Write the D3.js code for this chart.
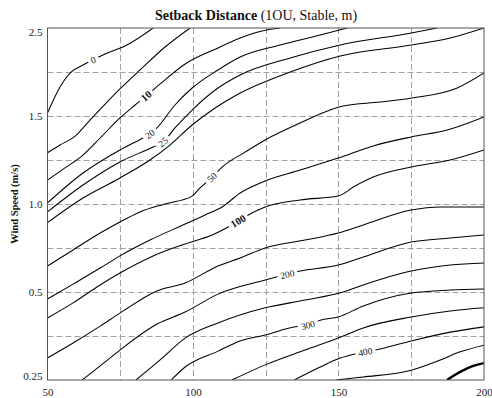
<!DOCTYPE html>
<html>
<head>
<meta charset="utf-8">
<script src="https://cdn.jsdelivr.net/npm/d3@7"></script>
<style>
  body { margin: 0; background: #fff; }
  svg { display: block; }
  text { font-family: "Liberation Serif", "Times New Roman", serif; }
</style>
</head>
<body>
<svg id="chart" width="492" height="398"></svg>
<script>
// axis values
const xTicks = [50, 100, 150, 200];
const xGrid = [75, 100, 125, 150, 175];
const yBreaks = [0.25, 0.375, 0.5, 0.75, 1.0, 1.25, 1.5, 2.0, 2.5];
const yTicks = [0.25, 0.5, 1.0, 1.5, 2.5];
const yTickLabels = ['0.25', '0.5', '1.0', '1.5', '2.5'];
const yGrid = [0.375, 0.5, 0.75, 1.0, 1.25, 1.5, 2.0];

// contour lines, [distance x, wind speed]
const c0   = [[50,1.534],[54.3,1.83],[58.3,2.003],[62.2,2.08],[69.8,2.205],[77.3,2.307],[86.3,2.5]];
const c5   = [[50,1.291],[54.3,1.335],[59.5,1.386],[64.6,1.477],[69.8,1.636],[74.9,1.807],[81.8,2.023],[90.4,2.284],[99.0,2.5]];
const c10  = [[50,1.136],[56.0,1.205],[62.2,1.278],[68.1,1.375],[74.9,1.489],[80.1,1.625],[83.9,1.727],[88.7,1.864],[97.3,2.091],[108.6,2.273],[116.2,2.386],[123.7,2.466],[129.9,2.5]];
const c20  = [[50,1.006],[62.2,1.176],[74.9,1.307],[82.8,1.375],[85.3,1.398],[87.6,1.432],[93.8,1.625],[99.7,1.818],[108.6,2.023],[116.2,2.170],[130.0,2.307],[143.7,2.420],[153.0,2.5]];
const c25  = [[50,0.955],[62.2,1.108],[74.9,1.239],[86.3,1.324],[89.7,1.352],[93.8,1.432],[99.7,1.568],[108.6,1.818],[116.2,1.966],[133.4,2.159],[150.6,2.307],[175.0,2.443],[183.9,2.5]];
const c40  = [[50,0.894],[62.2,1.034],[74.9,1.148],[85.2,1.25],[92.1,1.335],[99.7,1.449],[107.6,1.591],[116.2,1.761],[133.4,2.0],[150.6,2.182],[175.0,2.307],[188.4,2.386],[200,2.5]];
const c50  = [[50,0.648],[58.8,0.739],[68.1,0.835],[74.9,0.898],[81.8,0.955],[90.4,1.0],[99.7,1.045],[102.4,1.091],[106.6,1.153],[110.0,1.210],[117.9,1.295],[124.8,1.364],[136.8,1.460],[147.1,1.568],[151.6,1.614],[164.3,1.659],[175.3,1.705],[190.8,1.818],[200,1.989]];
const c75  = [[50,0.480],[58.8,0.545],[68.1,0.636],[74.9,0.705],[85.2,0.795],[97.3,0.886],[104.2,0.938],[110.0,0.983],[116.2,1.0625],[124.8,1.131],[136.8,1.193],[149.9,1.261],[161.9,1.330],[175.0,1.381],[187.4,1.420],[200,1.494]];
const c100 = [[50,0.426],[58.8,0.469],[68.1,0.540],[74.9,0.608],[86.3,0.705],[97.3,0.773],[106.6,0.824],[112.1,0.869],[115.5,0.903],[119.6,0.943],[124.8,0.983],[136.8,1.023],[149.9,1.045],[155.7,1.102],[161.9,1.153],[175.0,1.210],[188.4,1.25],[200,1.307]];
const c150 = [[50,0.3125],[58.8,0.355],[68.1,0.403],[74.9,0.440],[87.6,0.506],[97.3,0.551],[108.6,0.648],[116.2,0.693],[124.8,0.75],[138.5,0.795],[149.9,0.835],[158.5,0.881],[175.0,0.966],[185.0,0.983],[200,0.983]];
const c200 = [[61.9,0.25],[68.1,0.290],[74.9,0.335],[87.6,0.409],[97.3,0.443],[108.6,0.494],[124.8,0.568],[136.8,0.619],[149.9,0.653],[158.5,0.699],[175.0,0.784],[188.4,0.807],[200,0.824]];
const c250 = [[80.4,0.25],[88.7,0.307],[97.3,0.369],[108.6,0.412],[124.8,0.455],[138.5,0.477],[151.6,0.5],[158.5,0.540],[175.0,0.619],[188.4,0.653],[200,0.665]];
const c300 = [[92.5,0.25],[97.3,0.287],[108.6,0.332],[116.2,0.361],[124.8,0.378],[135.1,0.401],[139.6,0.406],[143.7,0.420],[149.9,0.429],[158.5,0.460],[175.0,0.497],[188.4,0.511],[200,0.517]];
const c350 = [[113.4,0.25],[124.8,0.293],[138.5,0.335],[149.9,0.369],[158.5,0.398],[175.0,0.429],[188.4,0.446],[200,0.455]];
const c400 = [[134.8,0.25],[143.0,0.284],[150.6,0.3125],[155.7,0.324],[159.2,0.330],[164.3,0.338],[175.0,0.361],[188.4,0.386],[200,0.401]];
const c450 = [[149.2,0.25],[158.5,0.2585],[175.0,0.278],[185.0,0.307],[191.8,0.330],[200,0.349]];
const c500 = [[187.3,0.25],[191.8,0.273],[196.3,0.290],[200,0.298]];

const contours = [
  { level: 0, pts: c0 }, { level: 5, pts: c5 }, { level: 10, pts: c10 },
  { level: 20, pts: c20 }, { level: 25, pts: c25 }, { level: 40, pts: c40 },
  { level: 50, pts: c50 }, { level: 75, pts: c75 }, { level: 100, pts: c100 },
  { level: 150, pts: c150 }, { level: 200, pts: c200 }, { level: 250, pts: c250 },
  { level: 300, pts: c300 }, { level: 350, pts: c350 }, { level: 400, pts: c400 },
  { level: 450, pts: c450 }, { level: 500, pts: c500 }
];

// inline labels: level and the x where it sits
const labelLevels = [0, 10, 20, 25, 50, 100, 200, 300, 400];
const labelX      = [65.7, 83.9, 85.2, 89.7, 106.5, 115.5, 132.4, 139.5, 159.2];
const boldLevels  = [10, 100];

const W = 492, H = 398;
const margin = { top: 28, right: 8, bottom: 18, left: 47.5 };
const iw = W - margin.left - margin.right;
const ih = H - margin.top - margin.bottom;

const x = d3.scaleLinear().domain([50, 200]).range([margin.left, margin.left + iw]);
const yStep = ih / (yBreaks.length - 1);
const y = d3.scaleLinear().domain(yBreaks)
  .range(yBreaks.map((d, i) => margin.top + ih - i * yStep));

const svg = d3.select('#chart');

svg.append('defs').append('clipPath').attr('id', 'plot-clip')
  .append('rect')
  .attr('x', margin.left).attr('y', margin.top)
  .attr('width', iw).attr('height', ih);

// grid
const grid = svg.append('g').attr('stroke', '#a0a0a0').attr('stroke-width', 1).attr('stroke-dasharray', '6,3');
grid.selectAll('line.gx').data(xGrid).enter().append('line')
  .attr('x1', d => Math.round(x(d)) + 0.5).attr('x2', d => Math.round(x(d)) + 0.5)
  .attr('y1', margin.top).attr('y2', margin.top + ih);
grid.selectAll('line.gy').data(yGrid).enter().append('line')
  .attr('y1', d => Math.round(y(d)) + 0.5).attr('y2', d => Math.round(y(d)) + 0.5)
  .attr('x1', margin.left).attr('x2', margin.left + iw);

// contour lines
const line = d3.line()
  .x(d => x(d[0])).y(d => y(d[1]))
  .curve(d3.curveMonotoneX);

svg.append('g').attr('clip-path', 'url(#plot-clip)')
  .selectAll('path').data(contours).enter().append('path')
  .attr('d', d => line(d.pts))
  .attr('fill', 'none')
  .attr('stroke', '#000')
  .attr('stroke-width', d => d.level === 500 ? 2.4 : 1.05);

// labels
function wAt(pts, xv) {
  for (let i = 1; i < pts.length; i++) {
    if (xv <= pts[i][0]) {
      const [x0, w0] = pts[i - 1], [x1, w1] = pts[i];
      return w0 + (w1 - w0) * (xv - x0) / (x1 - x0);
    }
  }
  return pts[pts.length - 1][1];
}

const labelG = svg.append('g');
labelLevels.forEach((lv, i) => {
  const pts = contours.find(c => c.level === lv).pts;
  const xv = labelX[i];
  const px = x(xv), py = y(wAt(pts, xv));
  const pa = [x(xv - 2), y(wAt(pts, xv - 2))];
  const pb = [x(xv + 2), y(wAt(pts, xv + 2))];
  const ang = Math.atan2(pb[1] - pa[1], pb[0] - pa[0]) * 180 / Math.PI;
  const g = labelG.append('g').attr('transform', `translate(${px},${py}) rotate(${ang})`);
  const bold = boldLevels.includes(lv);
  const t = g.append('text')
    .attr('text-anchor', 'middle').attr('dy', '0.35em')
    .attr('font-size', bold ? 10.5 : 9.5)
    .attr('font-weight', bold ? 'bold' : 'normal')
    .attr('fill', '#111')
    .text(lv);
  const bb = t.node().getBBox();
  g.insert('rect', 'text')
    .attr('x', bb.x - 3).attr('y', bb.y)
    .attr('width', bb.width + 6).attr('height', bb.height)
    .attr('fill', '#fff');
});

// frame
svg.append('rect')
  .attr('x', margin.left).attr('y', margin.top)
  .attr('width', iw).attr('height', ih)
  .attr('fill', 'none').attr('stroke', '#555').attr('stroke-width', 1);

// axes
const xAxis = svg.append('g')
  .attr('transform', `translate(0,${margin.top + ih})`)
  .call(d3.axisBottom(x).tickValues(xTicks).tickSize(0).tickPadding(8).tickFormat(d3.format('d')));
xAxis.select('.domain').remove();
xAxis.selectAll('text').attr('font-size', 11).attr('fill', '#222')
  .style('font-family', '"Liberation Serif", serif');

const yAxis = svg.append('g')
  .attr('transform', `translate(${margin.left},0)`)
  .call(d3.axisLeft(y).tickValues(yTicks).tickSize(0).tickPadding(5)
    .tickFormat((d, i) => yTickLabels[i]));
yAxis.select('.domain').remove();
yAxis.selectAll('text').attr('font-size', 11).attr('fill', '#222')
  .style('font-family', '"Liberation Serif", serif')
  .attr('dy', (d, i) => i === 0 ? '-0.05em' : (i === yTicks.length - 1 ? '0.7em' : '0.32em'));

// titles
const title = svg.append('text')
  .attr('x', 256).attr('y', 20)
  .attr('text-anchor', 'middle')
  .attr('font-size', 14)
  .attr('fill', '#111');
title.append('tspan').attr('font-weight', 'bold').text('Setback Distance');
title.append('tspan').text(' (1OU, Stable, m)');

svg.append('text')
  .attr('transform', `translate(18,${margin.top + ih / 2}) rotate(-90)`)
  .attr('text-anchor', 'middle')
  .attr('font-size', 10.5)
  .attr('font-weight', 'bold')
  .attr('fill', '#111')
  .text('Wind Speed (m/s)');
</script>
</body>
</html>
